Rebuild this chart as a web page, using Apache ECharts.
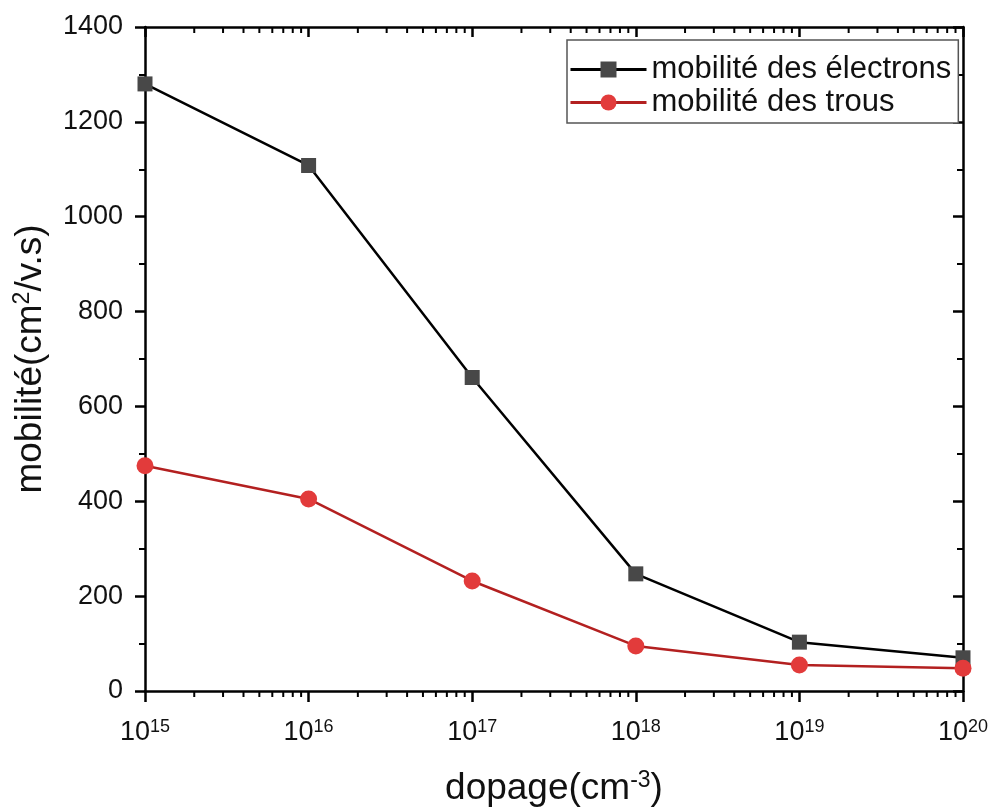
<!DOCTYPE html>
<html>
<head>
<meta charset="utf-8">
<script src="https://cdn.jsdelivr.net/npm/echarts@6/dist/echarts.min.js"></script>
<style>
    html, body { margin: 0; padding: 0; background: #fff; }
    #chart { width: 992px; height: 807px; }
</style>
</head>
<body>
<div id="chart"></div>
<script>
// dopage (cm^-3) and mobilities (cm2/v.s)
var dopage = [1e15, 1e16, 1e17, 1e18, 1e19, 1e20];
var electrons = [1280, 1108, 661, 247, 103, 70];
var trous = [475, 405, 232, 95, 55, 48];
var yTicks = [0, 200, 400, 600, 800, 1000, 1200, 1400];

// log minor ticks 2..9 x 10^k
var minorX = [];
for (var k = 15; k < 20; k++) {
    for (var m = 2; m < 10; m++) minorX.push(m * Math.pow(10, k));
}

var chart = echarts.init(document.getElementById('chart'));
var font = 'Liberation Sans, Arial, sans-serif';

function tickSeries(atTop) {
    return {
        type: 'custom',
        silent: true,
        clip: false,
        xAxisIndex: 0,
        yAxisIndex: 0,
        data: minorX.map(function (v) { return [v]; }),
        renderItem: function (params, api) {
            var p = api.coord([api.value(0), atTop ? 1400 : 0]);
            return {
                type: 'line',
                shape: { x1: p[0], y1: p[1], x2: p[0], y2: p[1] + 6 },
                style: { stroke: '#000', lineWidth: 2 }
            };
        },
        z: 1
    };
}

var option = {
    backgroundColor: '#fff',
    animation: false,
    grid: { left: 145, right: 29, top: 27, bottom: 116, outerBoundsMode: 'none' },
    legend: {
        left: 567, top: 40,
        orient: 'vertical',
        itemWidth: 76, itemHeight: 20, itemGap: 2,
        padding: [14, 7, 5, 2],
        borderColor: '#555', borderWidth: 1.5, borderRadius: 0,
        backgroundColor: '#fff',
        textStyle: { fontFamily: font, fontSize: 31, color: '#111' },
        lineStyle: { width: 3 },
        data: ['mobilité des électrons', 'mobilité des trous']
    },
    xAxis: [{
        type: 'log', logBase: 10, min: 1e15, max: 1e20,
        position: 'bottom',
        name: 'dopage(cm{sup|-3})',
        nameLocation: 'middle', nameGap: 78,
        nameTextStyle: {
            fontFamily: font, fontSize: 37, color: '#111',
            rich: { sup: { fontFamily: font, fontSize: 23, color: '#111', verticalAlign: 'top', padding: [0, 0, 16, 0] } }
        },
        axisLine: { onZero: false, lineStyle: { color: '#000', width: 2.5 } },
        axisTick: { length: 11, lineStyle: { color: '#000', width: 2.5 } },
        splitLine: { show: false },
        axisLabel: {
            margin: 27, color: '#111', fontFamily: font, fontSize: 27,
            formatter: function (v) {
                return '{b|10}{sup|' + Math.round(Math.log10(v)) + '}';
            },
            rich: {
                b: { fontFamily: font, fontSize: 27, color: '#111' },
                sup: { fontFamily: font, fontSize: 18, color: '#111', verticalAlign: 'top', padding: [0, 0, 12, 0] }
            }
        }
    }, {
        type: 'log', logBase: 10, min: 1e15, max: 1e20,
        position: 'top',
        axisLine: { onZero: false, lineStyle: { color: '#000', width: 2.5 } },
        axisTick: { inside: true, length: 10, lineStyle: { color: '#000', width: 2.5 } },
        axisLabel: { show: false },
        splitLine: { show: false }
    }],
    yAxis: [{
        type: 'value', min: 0, max: 1400, interval: 200,
        name: 'mobilité(cm{sup|2}/v.s)',
        nameLocation: 'middle', nameGap: 95,
        nameTextStyle: {
            fontFamily: font, fontSize: 37, color: '#111',
            rich: { sup: { fontFamily: font, fontSize: 23, color: '#111', verticalAlign: 'top', padding: [0, 0, 16, 0] } }
        },
        axisLine: { show: true, onZero: false, lineStyle: { color: '#000', width: 2.5 } },
        axisTick: { show: true, length: 10, lineStyle: { color: '#000', width: 2.5 } },
        minorTick: { show: true, splitNumber: 2, length: 6, lineStyle: { color: '#000', width: 2 } },
        splitLine: { show: false },
        axisLabel: {
            margin: 22, color: '#111', fontFamily: font, fontSize: 27,
            customValues: yTicks,
            formatter: function (v) { return String(v); }
        }
    }, {
        type: 'value', min: 0, max: 1400, interval: 200,
        position: 'right',
        axisLine: { show: true, onZero: false, lineStyle: { color: '#000', width: 2.5 } },
        axisTick: { show: true, inside: true, length: 10, lineStyle: { color: '#000', width: 2.5 } },
        minorTick: { show: true, splitNumber: 2, length: 6, lineStyle: { color: '#000', width: 2 } },
        axisLabel: { show: false },
        splitLine: { show: false }
    }],
    series: [{
        name: 'mobilité des électrons',
        type: 'line',
        data: dopage.map(function (d, i) { return [d, electrons[i]]; }),
        symbol: 'rect', symbolSize: 15,
        itemStyle: { color: '#484848' },
        lineStyle: { color: '#000', width: 2.5 },
        clip: false, z: 3
    }, {
        name: 'mobilité des trous',
        type: 'line',
        data: dopage.map(function (d, i) { return [d, trous[i]]; }),
        symbol: 'circle', symbolSize: 17,
        itemStyle: { color: '#e23b3b' },
        lineStyle: { color: '#b32020', width: 2.5 },
        clip: false, z: 4
    }, tickSeries(false), tickSeries(true)]
};
chart.setOption(option);
</script>
</body>
</html>
